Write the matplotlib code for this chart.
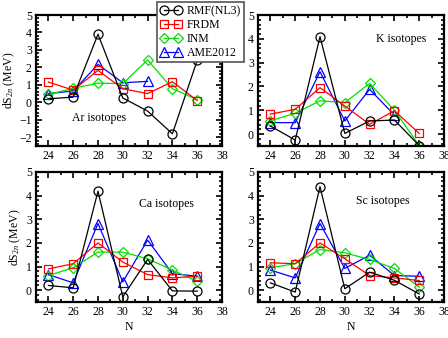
import matplotlib
matplotlib.use("Agg")
import matplotlib.pyplot as plt
from matplotlib.ticker import MultipleLocator
from matplotlib.lines import Line2D

plt.rcParams['font.family'] = ['Liberation Serif', 'DejaVu Serif']
plt.rcParams['mathtext.fontset'] = 'custom'
plt.rcParams['mathtext.rm'] = 'Liberation Serif'
plt.rcParams['mathtext.it'] = 'Liberation Serif:italic'

N = [24, 26, 28, 30, 32, 34, 36]

ar_rmf = [0.2, 0.3, 3.9, 0.25, -0.5, -1.8, 2.4]
ar_frdm = [1.16, 0.7, 1.83, 0.78, 0.5, 1.18, 0.1]
ar_inm = [0.45, 0.8, 1.1, 1.07, 2.43, 0.78, 0.15]
ar_ame = [0.5, 0.65, 2.17, 1.12, 1.2]

k_rmf = [0.34, -0.25, 4.09, 0.03, 0.55, 0.59, -0.48]
k_frdm = [0.84, 1.04, 1.95, 1.18, 0.41, 0.98, 0.03]
k_inm = [0.56, 0.87, 1.4, 1.32, 2.13, 1.0, -0.48]
k_ame = [0.48, 0.48, 2.62, 0.55, 1.88, 0.8]

ca_rmf = [0.2, 0.1, 4.19, -0.28, 1.3, -0.03, -0.04]
ca_frdm = [0.9, 1.12, 2.0, 1.19, 0.66, 0.52, 0.59]
ca_inm = [0.62, 0.95, 1.61, 1.61, 1.33, 0.85, 0.38]
ca_ame = [0.66, 0.31, 2.82, 0.35, 2.12, 0.7, 0.59]

sc_rmf = [0.31, -0.08, 4.38, 0.06, 0.76, 0.42, -0.16]
sc_frdm = [1.16, 1.12, 2.0, 1.33, 0.62, 0.52, 0.41]
sc_inm = [0.95, 1.12, 1.72, 1.58, 1.3, 0.92, 0.13]
sc_ame = [0.85, 0.52, 2.82, 0.92, 1.48, 0.62, 0.59]

labels = ['RMF(NL3)', 'FRDM', 'INM', 'AME2012']
colors = ['black', 'red', '#00e000', 'blue']
markers = ['o', 's', 'D', '^']
msizes = [6.5, 6.0, 5.0, 6.5]

panels = [
    ('Ar isotopes', [ar_rmf, ar_frdm, ar_inm, ar_ame], (-2.5, 5), (0.34, 0.21)),
    ('K isotopes', [k_rmf, k_frdm, k_inm, k_ame], (-0.5, 5), (0.77, 0.82)),
    ('Ca isotopes', [ca_rmf, ca_frdm, ca_inm, ca_ame], (-0.5, 5), (0.70, 0.75)),
    ('Sc isotopes', [sc_rmf, sc_frdm, sc_inm, sc_ame], (-0.5, 5), (0.67, 0.78)),
]

fig = plt.figure(figsize=(4.48, 3.38), dpi=100)
W, H = 448.0, 338.0
boxes = [(36, 15, 222, 146), (258, 15, 444, 146), (36, 172, 222, 302), (258, 172, 444, 302)]

for i, (title, series, ylim, tpos) in enumerate(panels):
    x0, y0, x1, y1 = boxes[i]
    ax = fig.add_axes([x0 / W, 1 - y1 / H, (x1 - x0) / W, (y1 - y0) / H])
    for j in [3, 2, 1, 0]:
        ys = series[j]
        ax.plot(N[:len(ys)], ys, color=colors[j], marker=markers[j], ms=msizes[j],
                mfc='none', mec=colors[j], mew=0.9, lw=0.9)
    ax.set_xlim(23, 38)
    ax.set_ylim(*ylim)
    ax.xaxis.set_major_locator(MultipleLocator(2))
    ax.xaxis.set_minor_locator(MultipleLocator(1))
    ax.yaxis.set_major_locator(MultipleLocator(1))
    ax.yaxis.set_minor_locator(MultipleLocator(0.2))
    ax.tick_params(which='both', direction='in', top=True, right=True, labelsize=8.5, width=1.2)
    ax.tick_params(which='major', length=4.5, pad=3)
    ax.tick_params(which='minor', length=2.5)
    for s in ax.spines.values():
        s.set_linewidth(1.6)
    ax.text(tpos[0], tpos[1], title, transform=ax.transAxes, ha='center', va='center', fontsize=8.5)
    if i % 2 == 0:
        ax.set_ylabel('dS$_{2n}$ (MeV)', fontsize=8.5, labelpad=2)
    if i >= 2:
        ax.set_xlabel('N', fontsize=8.5, labelpad=2)

handles = [Line2D([0], [0], color=colors[j], marker=markers[j], ms=msizes[j], mfc='none',
                  mec=colors[j], mew=0.9, lw=0.9) for j in range(4)]
leg = fig.legend(handles, labels, loc='upper left', bbox_to_anchor=(157 / W, 1 - 2 / H),
                 bbox_transform=fig.transFigure, borderaxespad=0, fontsize=8.5,
                 numpoints=2, handlelength=1.8, handletextpad=0.4, labelspacing=0.15,
                 borderpad=0.3, fancybox=False, framealpha=1, edgecolor='#555555')
leg.get_frame().set_linewidth(1.2)

fig.savefig('out.png', dpi=100)
